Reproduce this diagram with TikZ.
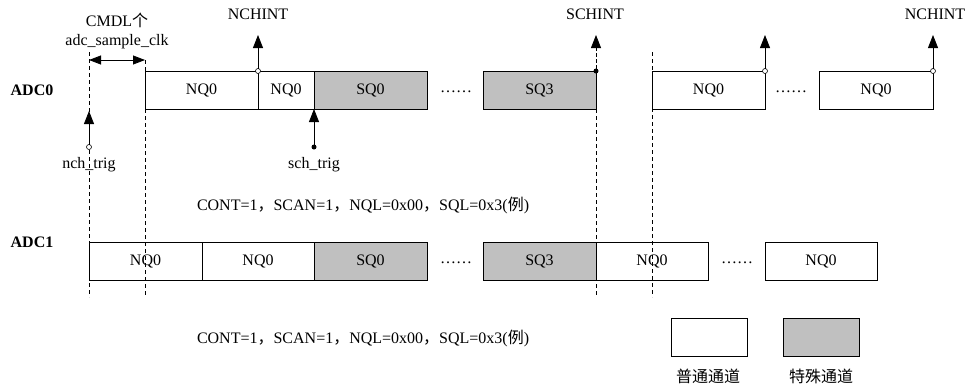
\documentclass[tikz,border=0pt]{standalone}
\usepackage{fontspec}
\setmainfont{Liberation Serif}
\newfontfamily\cjk{Noto Sans CJK SC}
\usetikzlibrary{arrows.meta}
\definecolor{sqgrey}{HTML}{C0C0C0}
\begin{document}
\begin{tikzpicture}[x=1pt,y=-1pt,
  every node/.style={font=\fontsize{16pt}{19pt}\selectfont, inner sep=0pt, outer sep=0pt},
  nbox/.style={draw, line width=0.8pt, fill=white, minimum height=38pt, anchor=north west},
  sbox/.style={nbox, fill=sqgrey},
  ocirc/.style={circle, draw, line width=0.6pt, fill=white, minimum size=5pt},
  fcirc/.style={circle, fill=black, minimum size=5pt},
  arr/.style={line width=0.8pt, -{Triangle[length=13pt,width=10pt]}},
  darr/.style={line width=0.8pt, {Triangle[length=12pt,width=9pt]}-{Triangle[length=12pt,width=9pt]}},
  dl/.style={line width=0.7pt, dash pattern=on 4pt off 3pt},
  lbl/.style={font=\fontsize{16pt}{19pt}\selectfont\bfseries},
  dots/.style={anchor=base}
]
\useasboundingbox (0,0) rectangle (965,384);

% ADC0 row
\node[lbl] (adc0) at (32,90) {ADC0};
\node[nbox, minimum width=113pt] (a1) at (145,71) {NQ0};
\node[nbox, minimum width=56pt] (a2) at (258,71) {NQ0};
\node[sbox, minimum width=113pt] (a3) at (314,71) {SQ0};
\node[dots] (d1) at (456,92) {……};
\node[sbox, minimum width=113pt] (a4) at (483,71) {SQ3};
\node[nbox, minimum width=113pt] (a5) at (652,71) {NQ0};
\node[dots] (d2) at (791,92) {……};
\node[nbox, minimum width=114pt] (a6) at (819,71) {NQ0};

% ADC1 row
\node[lbl] (adc1) at (32,242) {ADC1};
\node[nbox, minimum width=113pt] (b1) at (89,242) {NQ0};
\node[nbox, minimum width=112pt] (b2) at (202,242) {NQ0};
\node[sbox, minimum width=113pt] (b3) at (314,242) {SQ0};
\node[dots] (d3) at (456,263) {……};
\node[sbox, minimum width=113pt] (b4) at (483,242) {SQ3};
\node[nbox, minimum width=112pt] (b5) at (596,242) {NQ0};
\node[dots] (d4) at (737,263) {……};
\node[nbox, minimum width=112pt] (b6) at (765,242) {NQ0};

% dashed guide lines
\draw[dl] (89,52) -- (89,297);
\draw[dl] (145,60) -- (145,297);
\draw[dl] (a4.south east) -- (596,297);
\draw[dl] (652,52) -- (652,297);

% CMDL
\node (cmdl) at (117,20) {CMDL{\cjk 个}};
\node (clk) at (117,42) {adc\_sample\_clk};
\coordinate (cl) at (89,60);
\coordinate (cr) at (145,60);
\draw[darr] (cl) -- (cr);

% interrupts
\node (n1) at (258,14) {NCHINT};
\node (s1) at (595,14) {SCHINT};
\node (n2) at (935,14) {NCHINT};
\coordinate (t1) at (258,35);
\coordinate (t2) at (596,35);
\coordinate (t3) at (765,35);
\coordinate (t4) at (933,35);
\node[ocirc] (o1) at (a1.north east) {};
\node[fcirc] (o2) at (a4.north east) {};
\node[ocirc] (o3) at (a5.north east) {};
\node[ocirc] (o4) at (a6.north east) {};
\draw[arr] (o1) -- (t1);
\draw[arr, dash pattern=on 4pt off 2pt] (o2) -- (t2);
\draw[arr] (o3) -- (t3);
\draw[arr] (o4) -- (t4);

% triggers
\node[ocirc] (nt) at (89,147) {};
\coordinate (ntt) at (89,111);
\draw[arr] (nt) -- (ntt);
\node (ntl) at (89,165) {nch\_trig};
\node[fcirc] (st) at (314,147) {};
\draw[arr] (st) -- (a3.south west);
\node (stl) at (314,165) {sch\_trig};

% settings text
\node[anchor=west] (cfg1) at (197,205) {CONT=1{\cjk ，}SCAN=1{\cjk ，}NQL=0x00{\cjk ，}SQL=0x3({\cjk 例})};
\node[anchor=west] (cfg2) at (197,338) {CONT=1{\cjk ，}SCAN=1{\cjk ，}NQL=0x00{\cjk ，}SQL=0x3({\cjk 例})};

% legend
\node[nbox, minimum width=76pt] (l1) at (671,318) {};
\node[sbox, minimum width=76pt] (l2) at (783,318) {};
\node (l1t) at (708,376) {\cjk 普通通道};
\node (l2t) at (821,376) {\cjk 特殊通道};
\end{tikzpicture}
\end{document}
